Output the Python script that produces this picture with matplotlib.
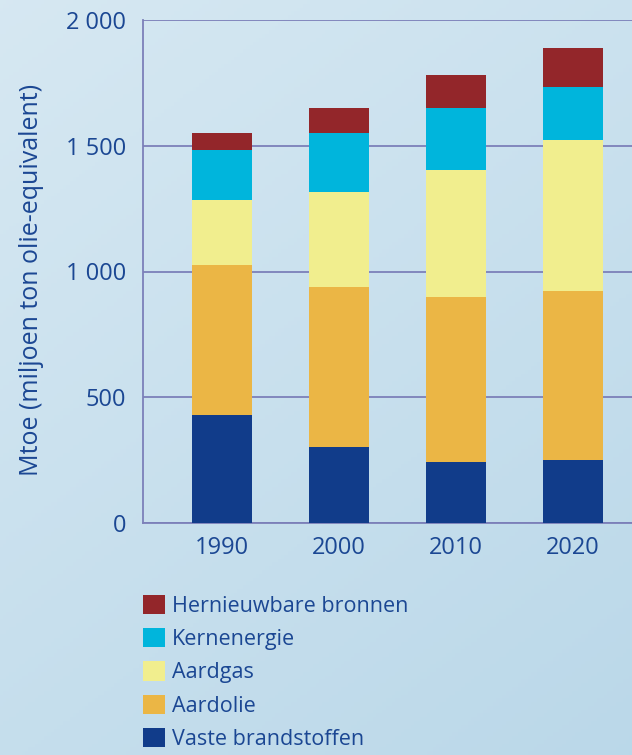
import numpy as np
import matplotlib
matplotlib.use("Agg")
import matplotlib.pyplot as plt
from matplotlib.patches import Patch

years = ["1990", "2000", "2010", "2020"]
vaste = [429, 302, 243, 250]
aardolie = [597, 636, 656, 672]
aardgas = [258, 378, 505, 601]
kernenergie = [199, 235, 246, 211]
hernieuwbaar = [68, 99, 131, 155]

series_names = ["Vaste brandstoffen", "Aardolie", "Aardgas", "Kernenergie", "Hernieuwbare bronnen"]
series_values = [vaste, aardolie, aardgas, kernenergie, hernieuwbaar]
series_colors = ["#113c8a", "#ebb645", "#f1ee8e", "#00b5dc", "#93262a"]

y_ticks = [0, 500, 1000, 1500, 2000]
y_tick_labels = ["0", "500", "1 000", "1 500", "2 000"]

text_color = "#1b4793"
line_color = "#7c80b9"

plt.rcParams["font.family"] = ["Open Sans", "DejaVu Sans"]

fig = plt.figure(figsize=(6.32, 7.55), dpi=100)

# soft blue backdrop
bg = fig.add_axes([0, 0, 1, 1], zorder=-1)
gx, gy = np.meshgrid(np.linspace(0, 1, 200), np.linspace(0, 1, 200))
shade = 0.55 * gy + 0.35 * gx
light = np.array([0.84, 0.91, 0.95])
dark = np.array([0.72, 0.84, 0.91])
img = light[None, None, :] * (1 - shade[..., None]) + dark[None, None, :] * shade[..., None]
bg.imshow(img, aspect="auto", extent=[0, 1, 0, 1], origin="upper")
bg.axis("off")

ax = fig.add_axes([143 / 632, 1 - 523 / 755, 1 - 143 / 632, 503 / 755])
ax.set_facecolor("none")

x = np.arange(len(years))
bottom = np.zeros(len(years))
for name, vals, color in zip(series_names, series_values, series_colors):
    ax.bar(x, vals, width=0.51, bottom=bottom, color=color, label=name, zorder=3)
    bottom += np.array(vals)

ax.set_xlim(-0.675, 3.504)
ax.set_ylim(0, 2000)
ax.set_xticks(x)
ax.set_xticklabels(years)
ax.set_yticks(y_ticks)
ax.set_yticklabels(y_tick_labels)
ax.tick_params(axis="both", length=0, labelsize=17, labelcolor=text_color)
ax.tick_params(axis="x", pad=9)
ax.tick_params(axis="y", pad=12)
ax.grid(axis="y", color=line_color, linewidth=1.3, zorder=1)
ax.set_axisbelow(True)
for side in ["top", "right"]:
    ax.spines[side].set_visible(False)
for side in ["left", "bottom"]:
    ax.spines[side].set_color(line_color)
    ax.spines[side].set_linewidth(1.3)

ax.set_ylabel("Mtoe (miljoen ton olie-equivalent)", fontsize=18, color=text_color)
ax.yaxis.set_label_coords(-0.202, 0.483)

handles = [Patch(facecolor=c, edgecolor="none") for c in series_colors[::-1]]
fig.legend(handles, series_names[::-1], loc="upper left",
           bbox_to_anchor=(143 / 632, 1 - 595 / 755), frameon=False,
           fontsize=15.5, labelcolor=text_color, handlelength=1.0, handleheight=1.0,
           handletextpad=0.35, labelspacing=0.52, borderpad=0, borderaxespad=0)

fig.savefig("out.png", dpi=100)
